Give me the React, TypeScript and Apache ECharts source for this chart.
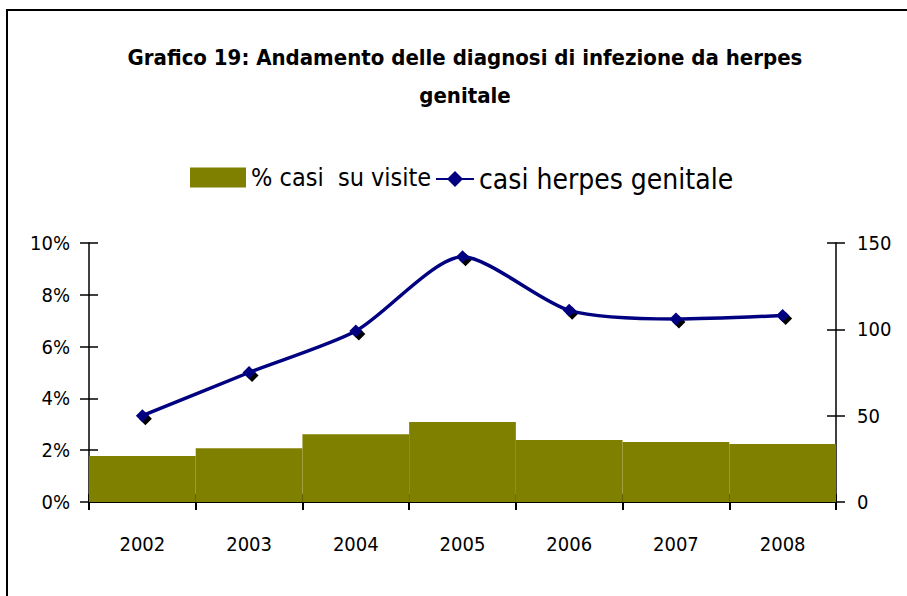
import React, { useEffect, useRef } from "react";
import * as echarts from "echarts";

const years = ["2002", "2003", "2004", "2005", "2006", "2007", "2008"];
const pctCasiSuVisite = [1.78, 2.08, 2.62, 3.09, 2.39, 2.32, 2.24];
const casiHerpes = [50, 75, 99, 142, 111, 106, 108];
const titleLines = ["Grafico 19: Andamento delle diagnosi di infezione da herpes", "genitale"];
const barName = "% casi  su visite";
const lineName = "casi herpes genitale";

const FONT = "'DejaVu Sans Condensed', 'DejaVu Sans', sans-serif";

export default function App() {
  const ref = useRef<HTMLDivElement>(null);
  useEffect(() => {
    document.body.style.margin = "0";
    const chart = echarts.init(ref.current!, null, { renderer: "svg" });
    const grid = { left: 89, right: 71, top: 243, bottom: 94 };
    chart.setOption({
      animation: false,
      backgroundColor: "#ffffff",
      textStyle: { fontFamily: FONT, color: "#000" },
      title: {
        text: titleLines.join("\n"),
        left: 460,
        top: 33,
        textAlign: "center",
        textStyle: { fontFamily: FONT, fontWeight: "bold", fontSize: 22, lineHeight: 38, color: "#000" },
      },
      graphic: [
        {
          type: "polyline",
          shape: { points: [[7, 700], [7, 10], [1000, 10]] },
          style: { stroke: "#000", lineWidth: 2, fill: null },
          silent: true,
        },
      ],
      legend: [
        {
          data: [{ name: barName, icon: "rect" }],
          left: 185,
          top: 160,
          itemWidth: 56,
          itemHeight: 20,
          textStyle: { fontFamily: FONT, fontSize: 25, color: "#000" },
        },
        {
          data: [lineName],
          left: 430,
          top: 160,
          itemWidth: 38,
          itemHeight: 20,
          textStyle: { fontFamily: FONT, fontSize: 28, color: "#000" },
        },
      ],
      grid,
      xAxis: [
        {
          type: "category",
          data: years,
          boundaryGap: true,
          axisLine: { lineStyle: { color: "#000", width: 2 } },
          axisTick: { show: true, length: 8, lineStyle: { color: "#000", width: 2 } },
          axisLabel: { margin: 32, fontSize: 20, color: "#000", fontFamily: FONT },
          splitLine: { show: false },
        },
        {
          type: "category",
          data: years,
          position: "bottom",
          boundaryGap: true,
          axisLine: { show: false },
          axisTick: { show: true, inside: true, length: 8, lineStyle: { color: "#000", width: 2 } },
          axisLabel: { show: false },
          splitLine: { show: false },
        },
      ],
      yAxis: [
        {
          type: "value",
          min: 0,
          max: 10,
          interval: 2,
          position: "left",
          axisLine: { show: true, lineStyle: { color: "#000", width: 1.5 } },
          axisTick: { show: true, length: 9, lineStyle: { color: "#000", width: 1.5 } },
          axisLabel: { margin: 19, fontSize: 20, color: "#000", fontFamily: FONT, formatter: "{value}%" },
          splitLine: { show: false },
        },
        {
          type: "value",
          min: 0,
          max: 150,
          interval: 50,
          position: "right",
          axisLine: { show: true, lineStyle: { color: "#000", width: 1.5 } },
          axisTick: { show: true, length: 9, lineStyle: { color: "#000", width: 1.5 } },
          axisLabel: { margin: 21, fontSize: 20, color: "#000", fontFamily: FONT },
          splitLine: { show: false },
        },
        {
          type: "value",
          min: 0,
          max: 10,
          interval: 2,
          position: "left",
          axisLine: { show: false },
          axisTick: { show: true, inside: true, length: 9, lineStyle: { color: "#000", width: 1.5 } },
          axisLabel: { show: false },
          splitLine: { show: false },
        },
        {
          type: "value",
          min: 0,
          max: 150,
          interval: 50,
          position: "right",
          axisLine: { show: false },
          axisTick: { show: true, inside: true, length: 9, lineStyle: { color: "#000", width: 1.5 } },
          axisLabel: { show: false },
          splitLine: { show: false },
        },
      ],
      series: [
        {
          name: barName,
          type: "bar",
          xAxisIndex: 0,
          yAxisIndex: 0,
          data: pctCasiSuVisite,
          barCategoryGap: "0%",
          itemStyle: { color: "#808000" },
          z: 1,
        },
        {
          name: "shadow",
          type: "line",
          xAxisIndex: 0,
          yAxisIndex: 1,
          data: casiHerpes,
          lineStyle: { width: 0, opacity: 0 },
          symbol: "diamond",
          symbolSize: 13,
          symbolOffset: [3, 3],
          itemStyle: { color: "#000" },
          z: 2,
        },
        {
          name: lineName,
          type: "line",
          xAxisIndex: 0,
          yAxisIndex: 1,
          data: casiHerpes,
          smooth: 0.25,
          lineStyle: { color: "#000080", width: 3.5 },
          symbol: "diamond",
          symbolSize: 13,
          itemStyle: { color: "#000080" },
          z: 3,
        },
      ],
    });
    return () => chart.dispose();
  }, []);
  return <div ref={ref} style={{ width: 907, height: 596 }} />;
}
